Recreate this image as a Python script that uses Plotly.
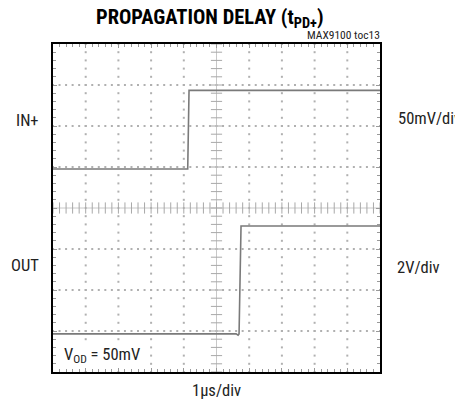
import numpy as np
import plotly.graph_objects as go

# ---- data (in divisions) ----
in_x = [0.0, 4.12, 4.16, 10.0]
in_y = [4.95, 4.95, 6.87, 6.87]

out_x = [0.0, 5.60, 5.66, 5.69, 5.75, 10.0]
out_y = [0.93, 0.93, 0.90, 0.93, 3.56, 3.56]

N_XDIV = 10
N_YDIV = 8
SUB = 0.2

title_text = "<b>PROPAGATION DELAY (t<sub>PD+</sub>)</b>"
note_text = "MAX9100 toc13"
x_label = "1µs/div"
ch1_label, ch1_scale = "IN+", "50mV/div"
ch2_label, ch2_scale = "OUT", "2V/div"
cond_text = "V<sub>OD</sub> = 50mV"

FONT = "Roboto Condensed, Liberation Sans Narrow, sans-serif"
GRID = "#b0b0b0"
TRACE = "#7a7a7a"

fig = go.Figure()

# dotted graticule
sub_x = np.round(np.arange(0, N_XDIV + 1e-9, SUB), 3)
sub_y = np.round(np.arange(0, N_YDIV + 1e-9, SUB), 3)
gx, gy = [], []
for yv in range(1, N_YDIV):
    if yv == N_YDIV // 2:
        continue
    gx += list(sub_x); gy += [yv] * len(sub_x)
for xv in range(1, N_XDIV):
    if xv == N_XDIV // 2:
        continue
    gx += [xv] * len(sub_y); gy += list(sub_y)
fig.add_trace(go.Scatter(x=gx, y=gy, mode="markers",
                         marker=dict(symbol="square", size=2, color=GRID),
                         hoverinfo="skip", showlegend=False))

# centre crosshair
cx, cy = N_XDIV / 2, N_YDIV / 2
fig.add_trace(go.Scatter(x=[0, N_XDIV], y=[cy, cy], mode="lines",
                         line=dict(color="#c8c8c8", width=1),
                         hoverinfo="skip", showlegend=False))
fig.add_trace(go.Scatter(x=[cx, cx], y=[0, N_YDIV], mode="lines",
                         line=dict(color="#c8c8c8", width=1),
                         hoverinfo="skip", showlegend=False))
fig.add_trace(go.Scatter(x=sub_x, y=[cy] * len(sub_x), mode="markers",
                         marker=dict(symbol="line-ns", size=8,
                                     line=dict(color="#a8a8a8", width=1)),
                         hoverinfo="skip", showlegend=False))
fig.add_trace(go.Scatter(x=[cx] * len(sub_y), y=sub_y, mode="markers",
                         marker=dict(symbol="line-ew", size=8,
                                     line=dict(color="#a8a8a8", width=1)),
                         hoverinfo="skip", showlegend=False))

# traces
fig.add_trace(go.Scatter(x=in_x, y=in_y, mode="lines",
                         line=dict(color=TRACE, width=1.6),
                         hoverinfo="skip", showlegend=False))
fig.add_trace(go.Scatter(x=out_x, y=out_y, mode="lines",
                         line=dict(color=TRACE, width=1.6),
                         hoverinfo="skip", showlegend=False))

axis_common = dict(showgrid=False, zeroline=False, showticklabels=False,
                   showline=True, linecolor="black", linewidth=2,
                   mirror="allticks", ticks="inside", ticklen=4,
                   tickcolor="#999999", tickwidth=1,
                   fixedrange=True)
fig.update_xaxes(range=[0, N_XDIV], dtick=1, tick0=0,
                 minor=dict(dtick=SUB, ticks="inside", ticklen=3,
                            tickcolor="#999999", showgrid=False),
                 **axis_common)
fig.update_yaxes(range=[0, N_YDIV], dtick=1, tick0=0,
                 minor=dict(dtick=SUB, ticks="inside", ticklen=3,
                            tickcolor="#999999", showgrid=False),
                 **axis_common)

lab = dict(family=FONT, size=16.5, color="#222222")
ann = [
    dict(text=ch1_label, x=-0.037, y=0.768, xanchor="right", yanchor="middle", font=lab),
    dict(text=ch2_label, x=-0.037, y=0.326, xanchor="right", yanchor="middle", font=lab),
    dict(text=ch1_scale, x=1.049, y=0.774, xanchor="left", yanchor="middle", font=lab),
    dict(text=ch2_scale, x=1.046, y=0.32, xanchor="left", yanchor="middle", font=lab),
    dict(text=x_label, x=0.5, y=-0.055, xanchor="center", yanchor="middle", font=lab),
    dict(text=cond_text, x=0.026, y=0.049, xanchor="left", yanchor="middle", font=lab,
         bgcolor="white"),
    dict(text=note_text, x=1.006, y=1.0, xanchor="right", yanchor="bottom",
         font=dict(family=FONT, size=11.5, color="#222222")),
    dict(text=title_text, x=0.479, y=1.079, xanchor="center", yanchor="middle",
         font=dict(family=FONT, size=20.5, color="black")),
]
for a in ann:
    a.update(xref="paper", yref="paper", showarrow=False)
# page body adds ~7px offset; margins compensate so the plot sits where the reference's does
fig.update_layout(annotations=ann,
                  width=463, height=407,
                  margin=dict(l=45, r=91, t=36, b=43),
                  paper_bgcolor="white", plot_bgcolor="white")

fig.write_html("out.html")
